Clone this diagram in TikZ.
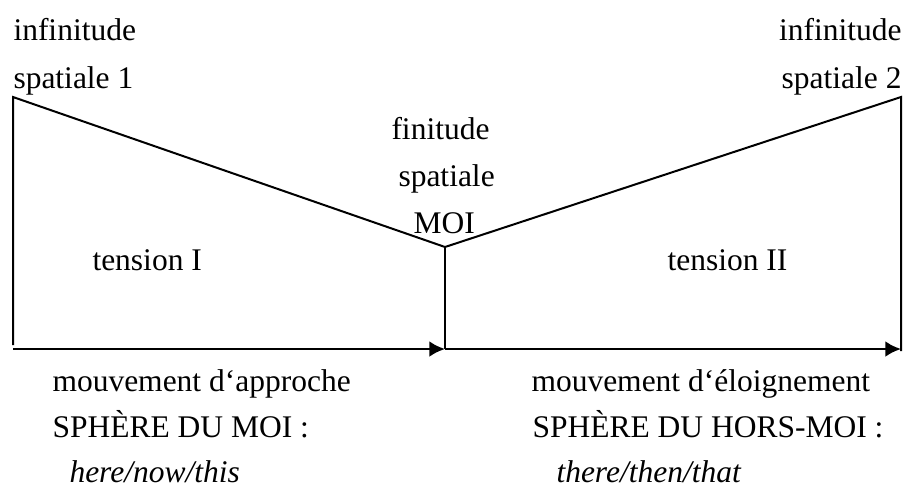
\documentclass[tikz,border=0pt]{standalone}
\usepackage{fontspec}
\setmainfont{Liberation Serif}
\usepackage{tikz}
\usetikzlibrary{
    arrows.meta,
    positioning
}
\tikzstyle{arrow} = [
    line width=1.1pt,
    -{Latex[length=6.3pt,width=6.4pt]}
]
\tikzstyle{edge} = [
    line width=0.8pt
]
\tikzstyle{txt} = [
    inner sep=0pt
]

\begin{document}
\begin{tikzpicture}[x=0.4pt,y=-0.4pt,font=\fontsize{12.6}{15}\selectfont]
\useasboundingbox (0,0) rectangle (907,489);
% corners of the figure
\coordinate (tl)   at (13,97);
\coordinate (apex) at (445,247);
\coordinate (tr)   at (901,97);
\coordinate (bl)   at (13,349);
\coordinate (bm)   at (445,349);
\coordinate (br)   at (901,349);
\coordinate (lfoot) at (13,345);
\coordinate (rfoot) at (901,351);
\draw[edge] (lfoot) -- (tl) -- (apex) -- (tr) -- (rfoot);
\draw[edge, line width=0.7pt] (apex) -- (bm);
\draw[arrow] (bl) -- (bm);
\draw[arrow] (bm) -- (br);
% labels above
\node[txt, anchor=base west] (inf1) at (13,40)  {infinitude};
\node[txt, anchor=base west] (sp1)  at (13,88)  {spatiale 1};
\node[txt, anchor=base east] (inf2) at (902,40) {infinitude};
\node[txt, anchor=base east] (sp2)  at (902,88) {spatiale 2};
\node[txt, anchor=base west] (fin)  at (391,139) {finitude};
\node[txt, anchor=base west] (spm)  at (398,186) {spatiale};
\node[txt, anchor=base west] (moi)  at (413,233) {MOI};
% tensions
\node[txt, anchor=base west] (ten1) at (92,270)  {tension I};
\node[txt, anchor=base west] (ten2) at (667,270) {tension II};
% labels below
\node[txt, anchor=base west] (mv1)  at (52,391)  {mouvement d‘approche};
\node[txt, anchor=base west] (sph1) at (52,437)  {SPHÈRE DU MOI :};
\node[txt, anchor=base west] (dx1)  at (69,482)  {\itshape here/now/this};
\node[txt, anchor=base west] (mv2)  at (531,391) {mouvement d‘éloignement};
\node[txt, anchor=base west] (sph2) at (532,437) {SPHÈRE DU HORS-MOI :};
\node[txt, anchor=base west] (dx2)  at (556,482) {\itshape there/then/that};
\end{tikzpicture}
\end{document}
